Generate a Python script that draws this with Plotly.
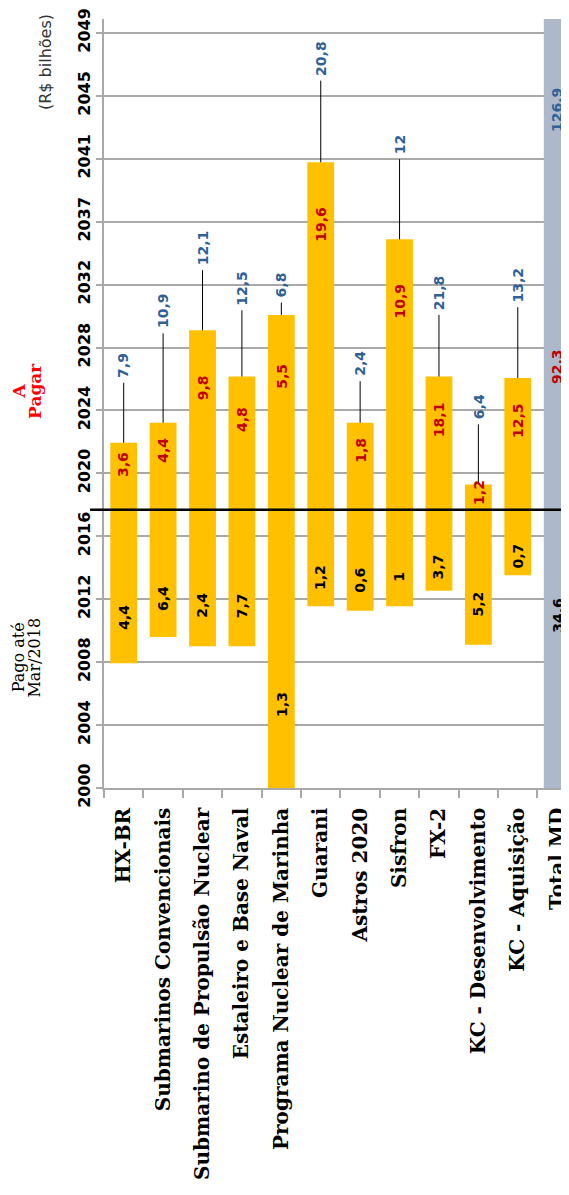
import plotly.graph_objects as go

# ---------------- data ----------------
categories = ["HX-BR", "Submarinos Convencionais", "Submarino de Propulsão Nuclear",
              "Estaleiro e Base Naval", "Programa Nuclear de Marinha", "Guarani",
              "Astros 2020", "Sisfron", "FX-2", "KC - Desenvolvimento",
              "KC - Aquisição", "Total MD"]
start_year = [2008.1, 2009.8, 2009.2, 2009.2, 2000.0, 2011.8, 2011.5, 2011.8, 2012.8, 2009.3, 2013.8, 2000.0]
bar_end_year = [2022.4, 2023.7, 2029.7, 2026.7, 2030.7, 2040.6, 2023.7, 2035.6, 2026.7, 2019.7, 2026.6, 2049.9]
line_end_year = [2026.3, 2029.5, 2033.6, 2031.0, 2031.5, 2045.9, 2026.4, 2040.8, 2030.7, 2023.6, 2031.2, None]
paid = [4.4, 6.4, 2.4, 7.7, 1.3, 1.2, 0.6, 1, 3.7, 5.2, 0.7, 34.6]
to_pay = [3.6, 4.4, 9.8, 4.8, 5.5, 19.6, 1.8, 10.9, 18.1, 1.2, 12.5, 92.3]
total = [7.9, 10.9, 12.1, 12.5, 6.8, 20.8, 2.4, 12, 21.8, 6.4, 13.2, 126.9]
cutoff_year = 2018.05
year_min, year_max = 2000, 2049
tick_labels = ["2000", "2004", "2008", "2012", "2016", "2020", "2024", "2028",
               "2032", "2037", "2041", "2045", "2049"]

# ---------------- styles ----------------
GOLD = "#FFC000"
TOTAL_COL = "#ADB9CA"
GRID = "#A9A9A9"
BLUE_TXT = "#2F6198"
RED_TXT = "#C00000"
LBL_FONT = dict(family="DejaVu Sans", size=14, weight="bold")

def fmt(v):
    return f"{v:g}".replace(".", ",")

n = len(categories)
colors = [GOLD] * (n - 1) + [TOTAL_COL]

fig = go.Figure()
fig.add_trace(go.Bar(
    x=categories,
    base=start_year,
    y=[e - s for s, e in zip(start_year, bar_end_year)],
    marker=dict(color=colors, line=dict(width=0)),
    width=0.68,
    hoverinfo="skip",
    showlegend=False,
))

# whiskers
wx, wy = [], []
for c, b, e in zip(categories, bar_end_year, line_end_year):
    if e is None:
        continue
    wx += [c, c, None]
    wy += [b, e, None]
fig.add_trace(go.Scatter(x=wx, y=wy, mode="lines",
                         line=dict(color="black", width=1),
                         hoverinfo="skip", showlegend=False))

annotations = []
for i, c in enumerate(categories):
    s, b, e = start_year[i], bar_end_year[i], line_end_year[i]
    if c == "Total MD":
        y_paid = year_min + 0.62 * (cutoff_year - year_min)
        y_pay = cutoff_year + 0.3 * (year_max - cutoff_year)
        y_tot = year_max - 5
        annotations.append(dict(x=c, y=y_tot, text=fmt(total[i]), showarrow=False,
                                textangle=-90, font=dict(LBL_FONT, color=BLUE_TXT),
                                xanchor="center", yanchor="middle"))
    else:
        y_paid = s + 0.3 * (cutoff_year - s)
        y_pay = b - min(0.32 * (b - cutoff_year), 4.0)
        annotations.append(dict(x=c, y=e, text=fmt(total[i]), showarrow=False,
                                textangle=-90, font=dict(LBL_FONT, color=BLUE_TXT),
                                xanchor="center", yanchor="bottom", yshift=3))
    annotations.append(dict(x=c, y=y_paid, text=fmt(paid[i]), showarrow=False,
                            textangle=-90, font=dict(LBL_FONT, color="black"),
                            xanchor="center", yanchor="middle"))
    annotations.append(dict(x=c, y=y_pay, text=fmt(to_pay[i]), showarrow=False,
                            textangle=-90, font=dict(LBL_FONT, color=RED_TXT),
                            xanchor="center", yanchor="middle"))

# side texts
side = [
    ("(R$ bilhões)", -0.127, 0.944, dict(family="DejaVu Sans", size=16, color="#333333")),
    ("A", -0.182, 0.516, dict(family="DejaVu Serif", size=17, color="#FF0000", weight="bold")),
    ("Pagar", -0.149, 0.516, dict(family="DejaVu Serif", size=17, color="#FF0000", weight="bold")),
    ("Pago até", -0.185, 0.17, dict(family="DejaVu Serif", size=16, color="black")),
    ("Mar/2018", -0.150, 0.17, dict(family="DejaVu Serif", size=16, color="black")),
]
for t, x, y, f in side:
    annotations.append(dict(xref="paper", yref="paper", x=x, y=y, text=t,
                            showarrow=False, textangle=-90, font=f,
                            xanchor="center", yanchor="middle"))

# page has an 8px body margin, so the figure is offset by 8px
fig.update_layout(
    width=561, height=1187,
    margin=dict(l=96, r=0, t=9, b=407),
    paper_bgcolor="white", plot_bgcolor="white",
    annotations=annotations,
    shapes=[
        dict(type="line", xref="paper", yref="y", x0=-0.03, x1=1.0,
             y0=cutoff_year, y1=cutoff_year, line=dict(color="black", width=2.5), layer="above"),
        dict(type="line", xref="paper", yref="paper", x0=-0.2215, x1=-0.2215,
             y0=-0.297, y1=-0.53, line=dict(color="#4F6FA0", width=2)),
    ],
    xaxis=dict(
        type="category", range=[-0.5, 11.3],
        tickangle=-90, tickson="boundaries", ticks="outside", ticklen=8,
        tickcolor=GRID, tickwidth=1.5, showline=True, linecolor=GRID, linewidth=1.5,
        showgrid=False, ticklabelstandoff=10,
        tickfont=dict(family="DejaVu Serif", size=20, color="black", weight="bold"),
    ),
    yaxis=dict(
        range=[2000, 2049.9],
        tickmode="array",
        tickvals=[year_min + k * (year_max - year_min) / 12 for k in range(13)],
        ticktext=tick_labels, ticklabeloverflow="allow",
        tickangle=-90, ticks="outside", ticklen=6, tickcolor=GRID, tickwidth=1.5,
        showline=True, linecolor=GRID, linewidth=1.5,
        showgrid=True, gridcolor=GRID, gridwidth=1.5, zeroline=False,
        tickfont=dict(family="DejaVu Sans", size=16, color="black", weight="bold"),
    ),
)

fig.write_html("out.html")
